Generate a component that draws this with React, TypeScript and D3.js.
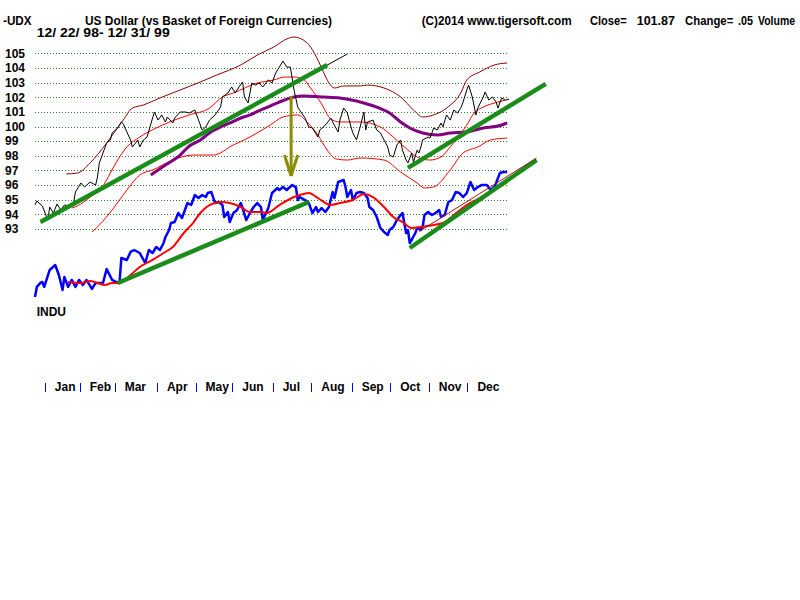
import React from 'react';
import * as d3 from 'd3';

type P = [number, number];

// UDX daily closes: [trading day index from 12/22/98, value]
const udxSeries: P[] = [
  [0,94.64],[1,94.91],[4,94.57],[7,93.61],[8,94.5],[10,94.09],[12,94.71],[14,94.3],[16,94.64],[19,94.57],
  [21,94.77],[22,95.53],[25,96.14],[27,95.87],[30,96.21],[33,96.0],[34,96.55],[35,97.51],[37,98.19],[39,98.87],
  [41,99.08],[42,99.56],[45,99.9],[47,100.31],[48,100.2],[50,99.62],[52,99.08],[53,98.6],[56,99.08],[57,98.6],
  [59,99.08],[61,99.28],[64,100.58],[65,100.99],[67,100.44],[69,100.79],[71,100.31],[72,100.65],[75,100.24],[76,100.58],
  [79,100.99],[82,100.99],[84,100.92],[87,101.13],[89,100.44],[91,99.76],[93,99.97],[95,100.44],[98,100.79],[101,101.33],
  [102,102.02],[105,102.29],[107,102.7],[109,102.29],[111,102.7],[113,103.04],[114,102.02],[116,101.61],[118,102.97],[120,102.83],
  [122,102.97],[124,102.7],[127,103.18],[129,102.97],[131,103.65],[133,104.06],[135,104.47],[137,104.06],[139,104.06],[141,102.49],
  [143,101.33],[144,101.13],[147,100.58],[149,99.97],[151,99.9],[154,99.28],[155,99.76],[157,99.97],[159,100.24],[161,100.58],
  [162,100.31],[165,99.62],[166,100.44],[168,101.26],[170,100.93],[172,99.97],[173,99.56],[175,99.08],[177,99.97],[179,100.99],
  [180,99.76],[181,100.31],[184,100.44],[186,99.76],[188,99.56],[190,99.08],[192,98.6],[193,98.05],[195,97.92],[197,98.74],
  [199,99.08],[200,98.39],[202,97.71],[203,97.51],[205,98.19],[206,97.58],[208,98.39],[209,98.19],[210,98.6],[211,99.08],
  [214,99.28],[215,99.21],[217,99.9],[219,99.76],[221,100.24],[222,99.97],[224,100.79],[226,100.44],[228,101.13],[230,100.92],
  [232,101.33],[233,101.67],[235,102.49],[236,102.83],[238,102.02],[240,100.79],[241,101.26],[244,102.02],[245,102.36],[247,101.81],
  [249,102.02],[251,101.67],[252,101.26],[254,101.95],[256,101.8],[258,101.87]
];

// UDX long moving average (purple)
const udxMA: P[] = [
  [63,96.69],[71,97.37],[79,98.05],[84,98.67],[90,99.08],[95,99.56],[101,99.97],[106,100.24],[112,100.58],[117,100.79],
  [123,101.13],[128,101.4],[133,101.67],[141,102.02],[146,102.08],[157,102.02],[166,101.95],[175,101.74],[179,101.61],[186,101.33],
  [193,100.92],[199,100.31],[204,99.9],[211,99.56],[219,99.42],[226,99.56],[235,99.62],[244,99.9],[252,100.03],[257,100.24]
];

// UDX bands
const bandUpper: P[] = [
  [17,96.76],[23,96.82],[30,97.51],[39,98.87],[48,100.44],[53,101.26],[59,101.47],[68,101.95],[79,102.49],[90,103.04],
  [99,103.52],[112,104.2],[121,104.88],[130,105.43],[137,105.98],[141,106.11],[146,105.91],[150,105.43],[154,104.54],[157,103.72],
  [160,102.97],[163,102.63],[168,102.77],[177,102.77],[181,102.83],[190,102.63],[199,102.02],[206,101.13],[211,100.65],[217,100.79],
  [224,101.26],[232,102.36],[235,103.18],[242,103.72],[250,104.2],[257,104.34]
];
const bandMid: P[] = [
  [20,94.43],[23,94.57],[30,95.18],[37,95.94],[41,96.82],[45,97.71],[50,98.6],[57,99.28],[66,99.9],[79,100.58],
  [84,100.79],[95,101.26],[102,102.02],[108,102.29],[121,102.97],[130,103.18],[136,103.38],[141,103.38],[146,103.24],[150,102.63],
  [156,101.54],[161,100.51],[166,100.31],[177,100.31],[188,99.97],[195,99.28],[203,98.39],[208,97.92],[215,97.71],[221,97.92],
  [226,98.6],[232,99.56],[235,100.1],[239,100.92],[244,101.33],[252,101.67],[256,101.81]
];
const bandLower: P[] = [
  [31,92.79],[35,93.27],[42,94.3],[50,95.66],[57,96.69],[64,97.03],[75,97.71],[86,98.05],[97,98.05],[108,98.74],
  [117,99.28],[128,100.1],[135,100.65],[143,100.79],[148,100.31],[154,99.42],[159,98.39],[164,97.78],[170,97.71],[177,97.85],
  [190,97.71],[199,96.89],[208,96.14],[212,95.8],[217,95.87],[226,97.03],[233,98.19],[241,98.6],[248,99.08],[257,99.21]
];

// INDU (Dow Jones Industrials) closes
const induSeries: P[] = [
  [0,9047],[1,9243],[3,9321],[4,9341],[5,9243],[8,9576],[11,9674],[13,9478],[15,9184],[16,9439],
  [18,9243],[20,9380],[22,9243],[24,9380],[26,9282],[28,9380],[31,9204],[33,9321],[35,9321],[37,9321],
  [39,9596],[42,9380],[44,9341],[46,9321],[47,9811],[50,9772],[52,9929],[54,9968],[57,9909],[60,9713],
  [62,9968],[64,9909],[66,10027],[68,9968],[70,10105],[71,10223],[73,10360],[74,10497],[76,10517],[78,10693],
  [80,10595],[82,10791],[83,10889],[85,10850],[87,11046],[89,10987],[91,11046],[93,11007],[94,11085],[96,11105],
  [98,10889],[100,10909],[102,10850],[103,10615],[105,10713],[106,10517],[108,10693],[110,10752],[112,10889],[113,10791],
  [115,10556],[117,10693],[119,10811],[121,10889],[123,10811],[124,10556],[127,10791],[129,11085],[132,11183],[133,11144],
  [135,11203],[137,11144],[140,11242],[142,11203],[143,10948],[144,11007],[147,10948],[149,10889],[151,10693],[153,10811],
  [154,10713],[156,10791],[158,10713],[160,10811],[162,11105],[163,10987],[165,11301],[168,11340],[169,11203],[170,11007],
  [172,11144],[173,10948],[175,11085],[177,11105],[179,11085],[181,10987],[182,10811],[184,10752],[186,10615],[188,10399],
  [190,10321],[192,10262],[193,10360],[195,10419],[197,10556],[199,10654],[200,10693],[201,10497],[202,10301],[203,10360],
  [204,10105],[205,10164],[207,10301],[208,10399],[210,10360],[211,10419],[212,10654],[214,10713],[216,10654],[218,10693],
  [220,10752],[221,10615],[223,10654],[225,10909],[227,10948],[229,11105],[231,11085],[233,11007],[235,11085],[237,11301],
  [239,11144],[241,11203],[243,11242],[246,11242],[248,11144],[250,11203],[251,11281],[253,11477],[255,11497],[257,11497]
];

// INDU moving average (red)
const induMA: P[] = [
  [18,9341],[25,9321],[30,9360],[34,9321],[38,9282],[42,9321],[46,9321],[52,9478],[57,9635],[64,9772],
  [70,9909],[75,10027],[81,10301],[86,10497],[90,10693],[95,10850],[101,10909],[106,10889],[112,10811],[117,10713],
  [123,10713],[126,10693],[133,10850],[141,11007],[144,11046],[149,11085],[154,10987],[161,10850],[166,10889],[173,10948],
  [179,11066],[184,11007],[190,10811],[195,10615],[200,10517],[205,10399],[210,10419],[217,10458],[222,10497],[230,10713],
  [235,10850],[242,10987],[249,11125],[257,11301]
];

// Trend lines (drawn annotations)
const udxTrends: P[][] = [
  [[3,93.48],[159,104.2]],
  [[203,97.17],[278,102.91]]
];
const udxTrendExtension: P[] = [[3,93.48],[170,104.95]];
const induTrends: P[][] = [
  [[45,9321],[149,10909]],
  [[204,10007],[273,11732]]
];
const induTrendEdge: P[] = [[209,10290],[273,11732]];

// Arrow annotation: day, top value, tip value, wing value, wing half-width (days)
const arrowDay = 139.4;
const arrowTop = 102.08;
const arrowTip = 96.62;
const arrowWing = 98.05;
const arrowWingDays = 3.6;

const yTicks = [105, 104, 103, 102, 101, 100, 99, 98, 97, 96, 95, 94, 93];
const monthLabels = ['Jan', 'Feb', 'Mar', 'Apr', 'May', 'Jun', 'Jul', 'Aug', 'Sep', 'Oct', 'Nov', 'Dec'];
const monthStartDays = [7, 26, 45, 68, 89, 109, 131, 152, 174, 195, 216, 237];

const FONT = '"Liberation Sans", Arial, Helvetica, sans-serif';

export default function App() {
  const x = d3.scaleLinear().domain([0, 258]).range([35, 509]);
  const y = d3.scaleLinear().domain([93, 105]).range([229, 53.3]);
  const yIndu = d3.scaleLinear().domain([9044, 11497]).range([y(88.35), y(96.89)]);

  const lineU = d3.line<P>().x(d => x(d[0])).y(d => y(d[1]));
  const lineI = d3.line<P>().x(d => x(d[0])).y(d => yIndu(d[1]));
  const smoothU = d3.line<P>().x(d => x(d[0])).y(d => y(d[1])).curve(d3.curveMonotoneX);
  const smoothI = d3.line<P>().x(d => x(d[0])).y(d => yIndu(d[1])).curve(d3.curveMonotoneX);

  const green = '#1a8c1a';
  const tStyle: React.CSSProperties = { fontFamily: FONT, fontWeight: 700, fontSize: 12 };

  const [gx0, gx1] = x.range();

  return (
    <svg width={800} height={600} style={{ position: 'absolute', left: 0, top: 0, background: '#ffffff' }}>
      <rect x={0} y={0} width={800} height={600} fill="#ffffff" />

      {/* header */}
      <g style={tStyle} fill="#000">
        <text x={3} y={25} textLength={28.5} lengthAdjust="spacingAndGlyphs">-UDX</text>
        <text x={85} y={25} textLength={247} lengthAdjust="spacingAndGlyphs">US Dollar (vs Basket of Foreign Currencies)</text>
        <text x={36.7} y={37.3} textLength={133} lengthAdjust="spacingAndGlyphs">12/ 22/ 98- 12/ 31/ 99</text>
        <text x={421.7} y={25} textLength={150} lengthAdjust="spacingAndGlyphs">(C)2014 www.tigersoft.com</text>
        <text x={590} y={25} textLength={36.7} lengthAdjust="spacingAndGlyphs">Close=</text>
        <text x={636.7} y={25} textLength={38.3} lengthAdjust="spacingAndGlyphs">101.87</text>
        <text x={685} y={25} textLength={48.3} lengthAdjust="spacingAndGlyphs">Change=</text>
        <text x={738} y={25} textLength={15} lengthAdjust="spacingAndGlyphs">.05</text>
        <text x={758} y={25} textLength={37} lengthAdjust="spacingAndGlyphs">Volume</text>
      </g>

      {/* grid + y labels */}
      {yTicks.map(t => (
        <g key={t}>
          <line x1={gx0} x2={gx1} y1={Math.round(y(t)) + 0.5} y2={Math.round(y(t)) + 0.5}
            stroke="#2e7d2e" strokeWidth={1} strokeDasharray="1 2" />
          <text x={5} y={y(t) + 4.3} style={tStyle} fill="#000">{t}</text>
        </g>
      ))}

      {/* UDX bands */}
      <path d={smoothU(bandUpper) || ''} fill="none" stroke="#8b0000" strokeWidth={1} />
      <path d={smoothU(bandMid) || ''} fill="none" stroke="#ff0000" strokeWidth={1} />
      <path d={smoothU(bandLower) || ''} fill="none" stroke="#ff0000" strokeWidth={1} />
      <path d={smoothU(udxMA) || ''} fill="none" stroke="#800080" strokeWidth={3} />

      {/* UDX line */}
      <path d={lineU(udxSeries) || ''} fill="none" stroke="#000" strokeWidth={1} />

      {/* UDX trend lines */}
      <path d={lineU(udxTrendExtension) || ''} fill="none" stroke="#000" strokeWidth={1} />
      {udxTrends.map((t, i) => (
        <path key={i} d={lineU(t) || ''} fill="none" stroke={green} strokeWidth={4.5} />
      ))}

      {/* INDU */}
      <path d={lineI(induSeries) || ''} fill="none" stroke="#0000ff" strokeWidth={2.5} strokeLinejoin="round" />
      <path d={smoothI(induMA) || ''} fill="none" stroke="#ff0000" strokeWidth={2} />
      {induTrends.map((t, i) => (
        <path key={i} d={lineI(t) || ''} fill="none" stroke={green} strokeWidth={4.5} />
      ))}
      <path d={lineI(induTrendEdge) || ''} fill="none" stroke="#a01010" strokeWidth={1} transform="translate(0,-2)" />

      {/* arrow */}
      <g stroke="#8c8c00" strokeWidth={3} fill="none">
        <line x1={x(arrowDay)} x2={x(arrowDay)} y1={y(arrowTop)} y2={y(arrowTip)} />
        <line x1={x(arrowDay - arrowWingDays)} x2={x(arrowDay)} y1={y(arrowWing)} y2={y(arrowTip)} />
        <line x1={x(arrowDay + arrowWingDays)} x2={x(arrowDay)} y1={y(arrowWing)} y2={y(arrowTip)} />
      </g>

      <text x={36.7} y={316} style={tStyle} fill="#000">INDU</text>

      {/* month axis */}
      {monthStartDays.map((d, i) => (
        <g key={d}>
          <line x1={Math.round(x(d) - 3) + 0.5} x2={Math.round(x(d) - 3) + 0.5} y1={383} y2={392} stroke="#0000ff" strokeWidth={1} />
          <text x={x(d) + 7} y={390.5} style={tStyle} fill="#000">{monthLabels[i]}</text>
        </g>
      ))}
    </svg>
  );
}
